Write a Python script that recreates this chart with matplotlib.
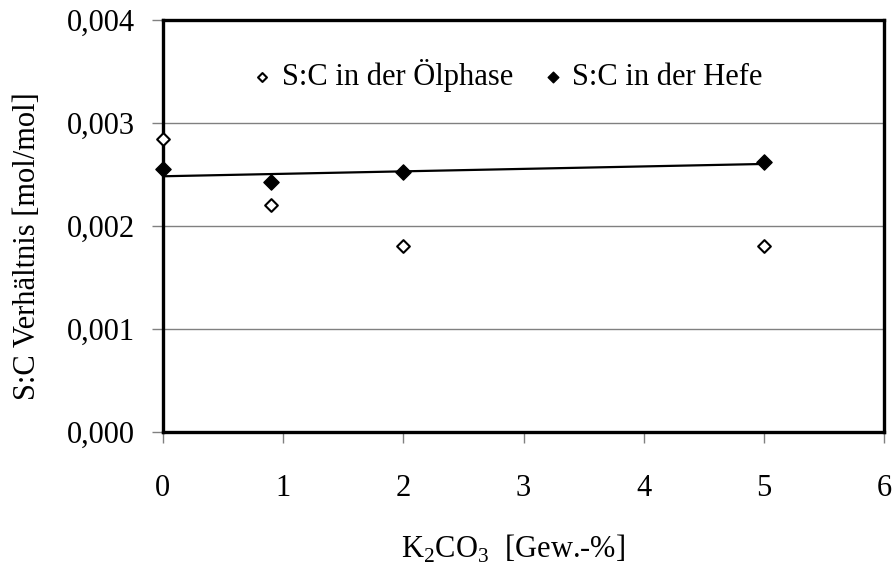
import numpy as np
import matplotlib
matplotlib.use("Agg")
import matplotlib.pyplot as plt
from matplotlib.ticker import FuncFormatter

plt.rcParams["font.family"] = ["Liberation Serif", "DejaVu Serif"]
plt.rcParams["mathtext.fontset"] = "custom"
plt.rcParams["mathtext.rm"] = "Liberation Serif"

# K2CO3 content [Gew.-%]
k2co3_oel = [0, 0.9, 2, 5]
k2co3_hefe = [0, 0.9, 2, 5]

# S:C ratio [mol/mol]
sc_oel = [0.00284, 0.00220, 0.00181, 0.00181]
sc_hefe = [0.00255, 0.00243, 0.00252, 0.00262]

x_ticks = [0, 1, 2, 3, 4, 5, 6]
y_ticks = [0.000, 0.001, 0.002, 0.003, 0.004]

fig = plt.figure(figsize=(8.95, 5.65), dpi=100)
ax = fig.add_axes([0.182, 0.2354, 0.806, 0.7292])

# grid
ax.set_axisbelow(True)
ax.yaxis.grid(True, color="#808080", linewidth=1.0)

# linear trend of yeast series
coef = np.polyfit(k2co3_hefe, sc_hefe, 1)
xt = np.array([min(k2co3_hefe), max(k2co3_hefe)])
ax.plot(xt, np.polyval(coef, xt), color="black", linewidth=1.6, zorder=3)

ax.scatter(k2co3_oel, sc_oel, marker="D", s=42, facecolor="white",
           edgecolor="black", linewidth=1.5, zorder=5, clip_on=False,
           label="S:C in der Ölphase")
ax.scatter(k2co3_hefe, sc_hefe, marker="D", s=60, facecolor="black",
           edgecolor="black", linewidth=1.0, zorder=5, clip_on=False,
           label="S:C in der Hefe")

ax.set_xlim(0, 6)
ax.set_ylim(0, 0.004)
ax.set_xticks(x_ticks)
ax.set_yticks(y_ticks)
ax.yaxis.set_major_formatter(FuncFormatter(lambda v, p: f"{v:.3f}".replace(".", ",")))

for s in ax.spines.values():
    s.set_linewidth(2.4)
    s.set_color("black")

ax.tick_params(axis="both", direction="out", length=8, width=1.0,
               color="#808080", labelsize=22)
ax.tick_params(axis="y", pad=12)
ax.tick_params(axis="x", pad=22)

ax.set_ylabel("S:C Verhältnis [mol/mol]", fontsize=22)
ax.yaxis.set_label_coords(-0.168, 0.45)
ax.set_xlabel(r"K$_2$CO$_3$  [Gew.-%]", fontsize=22)
ax.xaxis.set_label_coords(0.485, -0.245)

leg = ax.legend(loc="upper center", bbox_to_anchor=(0.478, 0.935), ncol=2,
                frameon=False, fontsize=22, handlelength=0.6,
                handletextpad=0.35, columnspacing=1.0, scatterpoints=1,
                borderaxespad=0, markerscale=0.7)

fig.savefig("out.png", dpi=100)
